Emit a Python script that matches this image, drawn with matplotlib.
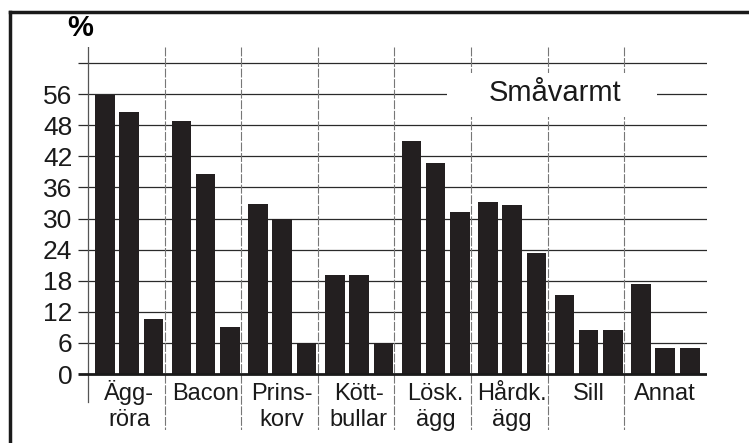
import matplotlib
matplotlib.use("Agg")
import matplotlib.pyplot as plt
from matplotlib.lines import Line2D
from matplotlib.patches import Rectangle

categories = ['Ägg-\nröra', 'Bacon', 'Prins-\nkorv', 'Kött-\nbullar',
              'Lösk.\nägg', 'Hårdk.\nägg', 'Sill', 'Annat']
series1 = [53.8, 48.8, 32.8, 19.1, 45.0, 33.2, 15.2, 17.4]
series2 = [50.5, 38.6, 30.0, 19.1, 40.8, 32.7, 8.5, 5.1]
series3 = [10.7, 9.1, 6.0, 6.0, 31.3, 23.3, 8.5, 5.1]
ytick_vals = [0, 6, 12, 18, 24, 30, 36, 42, 48, 54]
ytick_labels = ['0', '6', '12', '18', '24', '30', '36', '42', '48', '56']
grid_vals = ytick_vals[1:] + [60]
title = 'Småvarmt'

W, H = 749, 443
fig = plt.figure(figsize=(W / 100, H / 100), dpi=100)
fig.patch.set_facecolor('white')

ax = fig.add_axes([78 / W, 13 / H, 629 / W, 383 / H])
ax.set_xlim(-0.13, 8.08)
ax.set_ylim(-10.8, 63.1)
for s in ax.spines.values():
    s.set_visible(False)
ax.set_xticks([])
ax.set_yticks(ytick_vals)
ax.set_yticklabels(ytick_labels, family=['Liberation Sans', 'DejaVu Sans'], fontsize=19,
                   color='#1a1a1a')
ax.tick_params(axis='y', length=0, pad=4)

barc = '#231f20'
offsets = [0.222, 0.535, 0.855]
bw = 0.255
n = len(categories)
for k, ser in enumerate([series1, series2, series3]):
    ax.bar([i + offsets[k] for i in range(n)], ser, width=bw, color=barc, zorder=3)

# horizontal grid lines
for g in grid_vals:
    ax.plot([-0.13, 8.08], [g, g], color='#2a2a2a', lw=0.9, zorder=1, solid_capstyle='butt')
ax.plot([-0.13, 8.08], [0, 0], color='#1a1a1a', lw=2.0, zorder=4, solid_capstyle='butt')

# vertical separators
ax.plot([0, 0], [63.1, -5.4], color='#555555', lw=0.9, zorder=2)
for i in range(1, n):
    ax.plot([i, i], [63.1, -10.8], color='#777777', lw=0.8, zorder=2, ls=(0, (8, 1.5)))

# title box
ax.add_patch(Rectangle((4.69, 49.6), 7.43 - 4.69, 58.1 - 49.6, facecolor='white',
                       edgecolor='none', zorder=2.5))
ax.text(6.10, 54.2, title, ha='center', va='center', fontsize=21,
        family=['Liberation Sans', 'DejaVu Sans'], color='#1a1a1a', zorder=5)

# category labels
for i, c in enumerate(categories):
    lines = c.split('\n')
    for j, ln in enumerate(lines):
        ypix = 400 + 26 * j
        yd = (374 - ypix) / 5.183
        ax.text(i + 0.535, yd, ln, ha='center', va='baseline', fontsize=17,
                family=['Liberation Sans Narrow', 'Liberation Sans', 'DejaVu Sans'],
                color='#1a1a1a', clip_on=False)

# percent sign
fig.text(80 / W, 1 - 28 / H, '%', ha='center', va='center', fontsize=21,
         fontweight='bold', family=['Liberation Sans', 'DejaVu Sans'])

# frame lines
fig.add_artist(Line2D([9.5 / W, 1], [1 - 12 / H, 1 - 12 / H], color='#1a1a1a', lw=2.5,
                      transform=fig.transFigure))
fig.add_artist(Line2D([9.5 / W, 9.5 / W], [0, 1 - 12 / H], color='#1a1a1a', lw=2.5,
                      transform=fig.transFigure))

fig.savefig('out.png', dpi=100, facecolor='white')
